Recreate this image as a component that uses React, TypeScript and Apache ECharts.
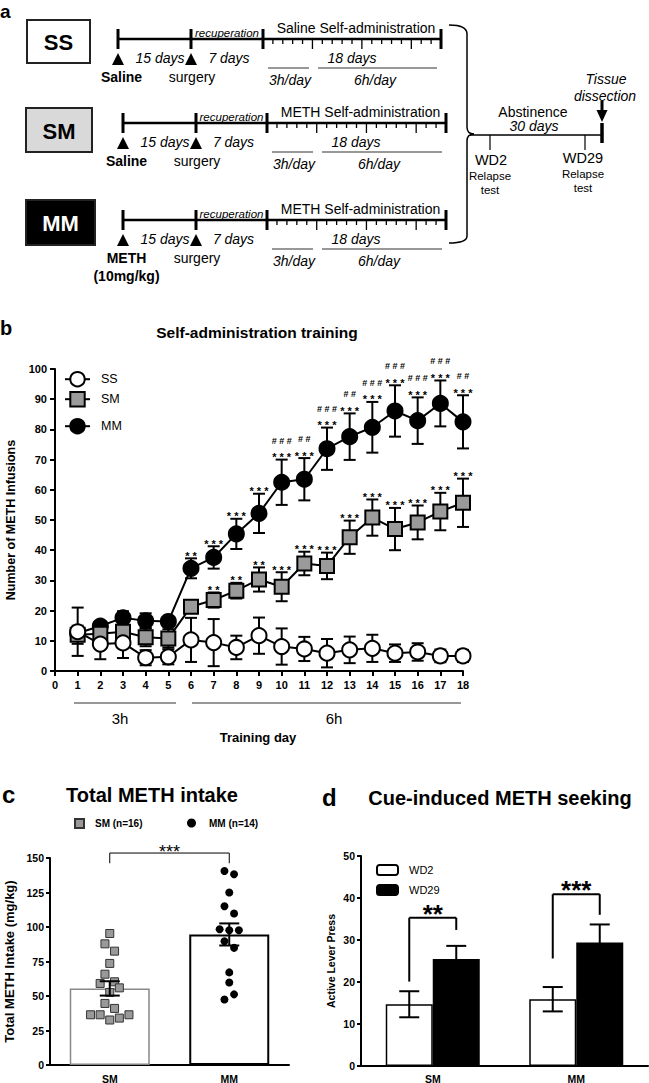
import React, { useEffect, useRef } from "react";
import * as echarts from "echarts";

const FONT = "'Liberation Sans', Arial, Helvetica, sans-serif";

// ---------- Panel a (protocol) ----------
const groups = ["SS", "SM", "MM"];
const groupFills = ["#ffffff", "#d9d9d9", "#000000"];
const groupTextColors = ["#000000", "#000000", "#ffffff"];
const pretreatLabels = [["Saline"], ["Saline"], ["METH", "(10mg/kg)"]];
const saTitles = ["Saline Self-administration", "METH Self-administration", "METH Self-administration"];
const phaseLabels = ["15 days", "7 days", "18 days"];
const sessionLabels = ["3h/day", "6h/day"];

// ---------- Panel b (training) ----------
const days = [1, 2, 3, 4, 5, 6, 7, 8, 9, 10, 11, 12, 13, 14, 15, 16, 17, 18];
const ssMean = [13.0, 8.9, 9.3, 4.4, 4.7, 10.3, 9.4, 7.8, 11.7, 8.1, 7.3, 5.9, 7.0, 7.5, 5.9, 6.3, 5.0, 5.0];
const ssErr = [8.0, 5.0, 5.0, 2.5, 2.5, 7.3, 7.8, 3.9, 6.0, 6.0, 4.0, 4.7, 4.4, 4.5, 2.9, 2.9, 2.1, 2.0];
const smMean = [12.0, 12.3, 13.0, 11.2, 10.8, 21.3, 23.5, 26.6, 30.3, 27.9, 35.6, 34.8, 44.3, 50.8, 47.0, 49.2, 52.8, 55.7];
const smErr = [3.0, 2.5, 3.0, 3.0, 3.0, 2.0, 2.5, 2.6, 4.0, 4.8, 3.9, 4.4, 5.5, 6.0, 7.0, 5.6, 6.2, 8.0];
const mmMean = [12.5, 14.9, 17.6, 16.6, 16.4, 34.0, 37.6, 45.4, 52.2, 62.5, 63.5, 73.6, 77.6, 80.7, 86.1, 82.9, 88.6, 82.5];
const mmErr = [2.0, 1.5, 2.2, 2.5, 1.0, 3.3, 3.7, 5.0, 6.5, 7.5, 7.0, 7.0, 7.7, 8.4, 8.5, 7.7, 7.6, 8.8];
const mmStars = ["", "", "", "", "", "**", "***", "***", "***", "***", "***", "***", "***", "***", "***", "***", "***", "***"];
const mmHashes = ["", "", "", "", "", "", "", "", "", "###", "##", "###", "##", "###", "###", "###", "###", "##"];
const smStars = ["", "", "", "", "", "", "**", "**", "**", "***", "***", "***", "***", "***", "***", "***", "***", "***"];
const trainingYTicks = { min: 0, max: 100, interval: 10 };

// ---------- Panel c (total intake) ----------
const intakeCats = ["SM", "MM"];
const intakeMean = [55.5, 94.6];
const intakeSem = [5.2, 8.0];
const smIntake = [95.3, 87.8, 82.5, 73.6, 65.8, 59.1, 60.3, 55.9, 52.6, 44.6, 41.0, 36.4, 36.4, 32.6, 34.0, 36.4];
const smSlot = [0, -1, 1, 0, -1, -2, 1, 2, 0, -1, 1, -4, -2, 0, 2, 4];
const mmIntake = [140.6, 138.2, 125.0, 115.0, 109.8, 98.4, 97.7, 97.7, 89.7, 84.9, 67.1, 59.8, 51.2, 47.5];
const mmSlot = [-1, 1, 0, -1, 1, -2, 0, 2, -1, 1, 0, 0, 1, -1];
const intakeBracket = [0, 1, 153.6, 146.2];
const intakeSig = "***";

// ---------- Panel d (cue-induced seeking) ----------
const seekCats = ["SM", "MM"];
const wd2 = [14.7, 15.9];
const wd2Err = [3.1, 2.9];
const wd29 = [25.5, 29.4];
const wd29Err = [3.1, 4.3];
const bracketLeftY = [20.1, 25.6];
const bracketTopY = [35.3, 40.9];
const bracketRightY = [32.4, 36.0];
const bracketLabels = ["**", "***"];

const D_BAR_W = 47;
const SLOT_PX = 4.8;

// ---------- helpers ----------
type TOpt = { size?: number; weight?: string; style?: string; fill?: string; align?: string; rot?: number };
const gText = (text: string, x: number, y: number, o: TOpt = {}) => ({
  type: "text",
  x,
  y,
  rotation: o.rot ?? 0,
  silent: true,
  style: {
    text,
    fill: o.fill ?? "#000",
    fontSize: o.size ?? 14,
    fontWeight: o.weight ?? "normal",
    fontStyle: o.style ?? "normal",
    fontFamily: FONT,
    textAlign: o.align ?? "center",
    align: o.align ?? "center",
    textVerticalAlign: "middle",
    verticalAlign: "middle",
  },
});
const gLine = (x1: number, y1: number, x2: number, y2: number, w = 1.5, c = "#000") => ({
  type: "line",
  silent: true,
  shape: { x1, y1, x2, y2 },
  style: { stroke: c, lineWidth: w },
});
const gBez = (x1: number, y1: number, cpx1: number, cpy1: number, cpx2: number, cpy2: number, x2: number, y2: number) => ({
  type: "bezierCurve",
  silent: true,
  shape: { x1, y1, cpx1, cpy1, cpx2, cpy2, x2, y2 },
  style: { stroke: "#000", lineWidth: 1.5, fill: "none" },
});
const gTri = (x: number, y: number, w: number, h: number, down = false) => ({
  type: "polygon",
  silent: true,
  shape: {
    points: down
      ? [[x - w / 2, y], [x + w / 2, y], [x, y + h]]
      : [[x, y], [x - w / 2, y + h], [x + w / 2, y + h]],
  },
  style: { fill: "#000" },
});

const rowLayout = [
  { box: [27, 20, 63, 43], y: 39, x: [118, 191, 263, 441] },
  { box: [26, 108, 66, 44], y: 123, x: [123, 196, 267, 446] },
  { box: [26, 200, 69, 45], y: 220, x: [123, 196, 267, 446] },
];

function buildPanelA(): any[] {
  const els: any[] = [];
  els.push(gText("a", 0, 11, { size: 19, weight: "bold", align: "left" }));
  rowLayout.forEach((r, i) => {
    const [bx, by, bw, bh] = r.box;
    const y = r.y;
    const [x0, x1, x2, x3] = r.x;
    els.push({
      type: "rect",
      silent: true,
      shape: { x: bx, y: by, width: bw, height: bh },
      style: { fill: groupFills[i], stroke: "#222", lineWidth: 2 },
    });
    els.push(gText(groups[i], bx + bw / 2, by + bh / 2 + 1, { size: 22, weight: "bold", fill: groupTextColors[i] }));
    els.push(gLine(x0, y, x3, y, 2.5));
    [x0, x1, x2, x3].forEach((xx) => els.push(gLine(xx, y - 10, xx, y + 10, 3)));
    for (let k = 1; k < 18; k++) {
      const xx = x2 + ((x3 - x2) * k) / 18;
      els.push(gLine(xx, y, xx, y + (k % 5 === 0 ? 10 : 5), 1.3));
    }
    els.push(gTri(x0, y + 14, 12, 12));
    els.push(gTri(x1, y + 14, 12, 12));
    els.push(gText(phaseLabels[0], x0 + 42, y + 19, { style: "italic" }));
    els.push(gText(phaseLabels[1], (x1 + x2) / 2 + 2, y + 19, { style: "italic" }));
    els.push(gText(phaseLabels[2], x2 + 89, y + 19, { style: "italic" }));
    els.push(gText("recuperation", (x1 + x2) / 2, y - 6, { style: "italic", size: 11.5 }));
    els.push(gText(saTitles[i], (x2 + x3) / 2 + 4, y - 11, { size: 14 }));
    els.push(gLine(x2 + 5, y + 29, x2 + 46, y + 29, 1.2, "#333"));
    els.push(gText(sessionLabels[0], x2 + 27, y + 41, { style: "italic" }));
    els.push(gLine(x2 + 55, y + 29, x3 - 4, y + 29, 1.2, "#333"));
    els.push(gText(sessionLabels[1], x2 + 112, y + 41, { style: "italic" }));
    pretreatLabels[i].forEach((t, j) => els.push(gText(t, x0 + 3.5, y + 38 + j * 18, { weight: "bold" })));
    els.push(gText("surgery", x1 + 1, y + 38));
  });
  // brace
  els.push(gBez(449, 25, 462, 25, 467, 28, 467, 34));
  els.push(gLine(467, 34, 467, 127));
  els.push(gBez(467, 127, 467, 132, 470, 134, 474, 134));
  els.push(gBez(474, 134, 470, 134, 467, 136, 467, 141));
  els.push(gLine(467, 141, 467, 236));
  els.push(gBez(467, 236, 467, 240, 462, 243, 449, 243));
  // abstinence
  els.push(gLine(470, 135, 602, 135, 1.5));
  els.push(gLine(490, 135, 490, 150, 1.2));
  els.push(gLine(585, 135, 585, 150, 1.2));
  els.push(gLine(602, 123, 602, 143, 3.5));
  els.push(gLine(602, 101, 602, 112, 3));
  els.push(gTri(602, 110, 11, 12, true));
  els.push(gText("Abstinence", 533, 112));
  els.push(gText("30 days", 534, 126, { style: "italic" }));
  els.push(gText("WD2", 491, 160, { size: 14.5 }));
  els.push(gText("Relapse", 490, 176, { size: 11.5 }));
  els.push(gText("test", 490, 190, { size: 11.5 }));
  els.push(gText("WD29", 583, 158, { size: 14.5 }));
  els.push(gText("Relapse", 583, 174, { size: 11.5 }));
  els.push(gText("test", 583, 188, { size: 11.5 }));
  els.push(gText("Tissue", 606, 79, { style: "italic" }));
  els.push(gText("dissection", 605, 96, { style: "italic" }));
  return els;
}

function buildOtherGraphics(): any[] {
  return [
    gText("b", 0, 328, { size: 20, weight: "bold", align: "left" }),
    gText("Self-administration training", 257, 332, { size: 15.5, weight: "bold" }),
    gLine(74, 703, 176, 703, 1.2, "#333"),
    gLine(192, 703, 461, 703, 1.2, "#333"),
    gText("3h", 120, 718, { size: 15 }),
    gText("6h", 334, 718, { size: 15 }),
    gText("Training day", 258, 737, { size: 13, weight: "bold" }),
    gText("c", 2, 794, { size: 24, weight: "bold", align: "left" }),
    gText("Total METH intake", 152, 795, { size: 20, weight: "bold" }),
    gText("d", 322, 797, { size: 24, weight: "bold", align: "left" }),
    gText("Cue-induced METH seeking", 500, 798, { size: 20, weight: "bold" }),
  ];
}

const errRender = (capHalf: number, width = 2) => (params: any, api: any) => {
  const x = api.value(0);
  const m = api.value(1);
  const e = api.value(2);
  const side = api.value(3) || 0;
  const t = api.coord([x, m + e]);
  const b = api.coord([x, m - e]);
  const dx = side * (D_BAR_W / 2);
  const cx = t[0] + dx;
  const st = { stroke: "#000", lineWidth: width };
  return {
    type: "group",
    children: [
      { type: "line", shape: { x1: cx, y1: t[1], x2: cx, y2: b[1] }, style: st },
      { type: "line", shape: { x1: cx - capHalf, y1: t[1], x2: cx + capHalf, y2: t[1] }, style: st },
      { type: "line", shape: { x1: cx - capHalf, y1: b[1], x2: cx + capHalf, y2: b[1] }, style: st },
    ],
  };
};

const spaced = (s: string) => s.split("").join(" ");

const annotRender = (stars: string[], hashes: string[] | null) => (params: any, api: any) => {
  const i = params.dataIndex;
  const p = api.coord([api.value(0), api.value(1)]);
  const children: any[] = [];
  const mk = (text: string, y: number, size: number) => ({
    type: "text",
    x: p[0],
    y,
    style: {
      text,
      fill: "#000",
      fontSize: size,
      fontWeight: "bold",
      fontFamily: FONT,
      textAlign: "center",
      align: "center",
      textVerticalAlign: "middle",
      verticalAlign: "middle",
    },
  });
  if (stars[i]) children.push(mk(spaced(stars[i]), p[1] - 2.5, 11));
  if (hashes && hashes[i]) children.push(mk(spaced(hashes[i]), p[1] - 19, 9));
  return { type: "group", children };
};

const dotRender = (square: boolean) => (params: any, api: any) => {
  const p = api.coord([api.value(0), api.value(1)]);
  const x = p[0] + api.value(2) * SLOT_PX;
  if (square) {
    return {
      type: "rect",
      shape: { x: x - 4, y: p[1] - 4, width: 8, height: 8 },
      style: { fill: "#999", stroke: "#333", lineWidth: 1 },
    };
  }
  return { type: "circle", shape: { cx: x, cy: p[1], r: 4 }, style: { fill: "#000" } };
};

const intakeBracketRender = (params: any, api: any) => {
  const l = api.coord([api.value(0), api.value(2)]);
  const r = api.coord([api.value(1), api.value(2)]);
  const dy = api.coord([api.value(0), api.value(3)])[1];
  const st = { stroke: "#000", lineWidth: 1 };
  return {
    type: "group",
    children: [
      { type: "line", shape: { x1: l[0], y1: dy, x2: l[0], y2: l[1] }, style: st },
      { type: "line", shape: { x1: l[0], y1: l[1], x2: r[0], y2: r[1] }, style: st },
      { type: "line", shape: { x1: r[0], y1: r[1], x2: r[0], y2: dy }, style: st },
      {
        type: "text",
        x: (l[0] + r[0]) / 2,
        y: l[1] - 1,
        style: {
          text: intakeSig,
          fill: "#000",
          fontSize: 18,
          fontWeight: "normal",
          fontFamily: FONT,
          textAlign: "center",
          align: "center",
          textVerticalAlign: "middle",
          verticalAlign: "middle",
        },
      },
    ],
  };
};

const seekBracketRender = (params: any, api: any) => {
  const cat = api.value(0);
  const top = api.coord([cat, api.value(2)]);
  const yL = api.coord([cat, api.value(1)])[1];
  const yR = api.coord([cat, api.value(3)])[1];
  const xL = top[0] - D_BAR_W / 2;
  const xR = top[0] + D_BAR_W / 2;
  const st = { stroke: "#000", lineWidth: 2 };
  return {
    type: "group",
    children: [
      { type: "line", shape: { x1: xL, y1: yL, x2: xL, y2: top[1] }, style: st },
      { type: "line", shape: { x1: xL, y1: top[1], x2: xR, y2: top[1] }, style: st },
      { type: "line", shape: { x1: xR, y1: top[1], x2: xR, y2: yR }, style: st },
      {
        type: "text",
        x: (xL + xR) / 2,
        y: top[1] - 4,
        style: {
          text: bracketLabels[params.dataIndex],
          fill: "#000",
          fontSize: 26,
          fontWeight: "bold",
          fontFamily: FONT,
          textAlign: "center",
          align: "center",
          textVerticalAlign: "middle",
          verticalAlign: "middle",
        },
      },
    ],
  };
};

const axisLine = { show: true, onZero: true, lineStyle: { color: "#000", width: 2 } };
const axisTick = (len: number) => ({ show: true, length: len, inside: false, lineStyle: { color: "#000", width: 2 } });
const lbl = (size: number, margin: number) => ({ color: "#000", fontWeight: "bold", fontSize: size, margin, fontFamily: FONT });

function buildOption(): any {
  const lineBase = { type: "line", xAxisIndex: 0, yAxisIndex: 0, lineStyle: { color: "#000", width: 2 }, z: 3 };
  return {
    animation: false,
    textStyle: { fontFamily: FONT, color: "#000" },
    grid: [
      { left: 55, top: 369, width: 408, height: 302, containLabel: false, outerBoundsMode: "none" },
      { left: 50, top: 858, width: 239, height: 207, containLabel: false, outerBoundsMode: "none" },
      { left: 361, top: 856, width: 287, height: 210, containLabel: false, outerBoundsMode: "none" },
    ],
    xAxis: [
      {
        gridIndex: 0, type: "value", min: 0, max: 18, interval: 1,
        axisLine, axisTick: axisTick(5), axisLabel: lbl(11, 8), splitLine: { show: false },
      },
      {
        gridIndex: 1, type: "category", data: intakeCats,
        axisLine, axisTick: { show: false }, axisLabel: lbl(10.5, 8), splitLine: { show: false },
      },
      {
        gridIndex: 2, type: "category", data: seekCats,
        axisLine, axisTick: { show: false }, axisLabel: lbl(10.5, 7), splitLine: { show: false },
      },
    ],
    yAxis: [
      {
        gridIndex: 0, type: "value", ...trainingYTicks,
        axisLine, axisTick: axisTick(5), axisLabel: lbl(11, 8), splitLine: { show: false },
        name: "Number of METH Infusions", nameLocation: "middle", nameGap: 29, nameRotate: 90,
        nameTextStyle: { fontWeight: "bold", fontSize: 12.5, color: "#000", fontFamily: FONT },
      },
      {
        gridIndex: 1, type: "value", min: 0, max: 150, interval: 25,
        axisLine, axisTick: axisTick(4), axisLabel: lbl(10.5, 6), splitLine: { show: false },
        name: "Total METH Intake (mg/kg)", nameLocation: "middle", nameGap: 34, nameRotate: 90,
        nameTextStyle: { fontWeight: "bold", fontSize: 13, color: "#000", fontFamily: FONT },
      },
      {
        gridIndex: 2, type: "value", min: 0, max: 50, interval: 10,
        axisLine, axisTick: axisTick(4), axisLabel: lbl(10.5, 6), splitLine: { show: false },
        name: "Active Lever Press", nameLocation: "middle", nameGap: 25, nameRotate: 90,
        nameTextStyle: { fontWeight: "bold", fontSize: 10.5, color: "#000", fontFamily: FONT },
      },
    ],
    legend: [
      ...[
        { name: "SS", top: 371 },
        { name: "SM", top: 391 },
        { name: "MM", top: 418 },
      ].map((l) => ({
        data: [l.name], left: 64, top: l.top, orient: "vertical", itemWidth: 25, itemHeight: 18,
        selectedMode: false, padding: 0,
        textStyle: { color: "#000", fontSize: 12.5, fontFamily: FONT, padding: [0, 0, 0, 6] },
      })),
      {
        data: [{ name: "SM (n=16)", icon: "rect" }], left: 74, top: 818, itemWidth: 9, itemHeight: 9,
        selectedMode: false, padding: 0,
        textStyle: { color: "#000", fontSize: 10, fontWeight: "bold", fontFamily: FONT, padding: [0, 0, 0, 6] },
      },
      {
        data: [{ name: "MM (n=14)", icon: "circle" }], left: 187, top: 818, itemWidth: 9, itemHeight: 9,
        selectedMode: false, padding: 0,
        textStyle: { color: "#000", fontSize: 10, fontWeight: "bold", fontFamily: FONT, padding: [0, 0, 0, 8] },
      },
      {
        data: ["WD2", "WD29"], left: 376, top: 864, orient: "vertical", itemWidth: 21, itemHeight: 10, itemGap: 8,
        selectedMode: false, padding: 0,
        textStyle: { color: "#000", fontSize: 11, fontFamily: FONT, padding: [0, 0, 0, 6] },
      },
    ],
    graphic: { elements: [...buildPanelA(), ...buildOtherGraphics()] },
    series: [
      // panel b error bars
      ...[
        [mmMean, mmErr],
        [smMean, smErr],
        [ssMean, ssErr],
      ].map(([m, e]) => ({
        type: "custom", xAxisIndex: 0, yAxisIndex: 0, clip: false, z: 2, silent: true,
        encode: { x: 0, y: 1 }, renderItem: errRender(6),
        data: days.map((d, i) => [d, m[i], e[i]]),
      })),
      {
        ...lineBase, name: "MM", symbol: "circle", symbolSize: 15,
        itemStyle: { color: "#000", borderColor: "#000", borderWidth: 2 },
        data: days.map((d, i) => [d, mmMean[i]]),
      },
      {
        ...lineBase, name: "SM", symbol: "rect", symbolSize: 14,
        itemStyle: { color: "#9a9a9a", borderColor: "#000", borderWidth: 2 },
        data: days.map((d, i) => [d, smMean[i]]),
      },
      {
        ...lineBase, name: "SS", symbol: "circle", symbolSize: 15, z: 4,
        itemStyle: { color: "#fff", borderColor: "#000", borderWidth: 2 },
        data: days.map((d, i) => [d, ssMean[i]]),
      },
      {
        type: "custom", xAxisIndex: 0, yAxisIndex: 0, clip: false, z: 5, silent: true,
        encode: { x: 0, y: 1 }, renderItem: annotRender(mmStars, mmHashes),
        data: days.map((d, i) => [d, mmMean[i] + mmErr[i]]),
      },
      {
        type: "custom", xAxisIndex: 0, yAxisIndex: 0, clip: false, z: 5, silent: true,
        encode: { x: 0, y: 1 }, renderItem: annotRender(smStars, null),
        data: days.map((d, i) => [d, smMean[i] + smErr[i]]),
      },
      // panel c
      {
        type: "bar", xAxisIndex: 1, yAxisIndex: 1, barWidth: 80, silent: true, z: 2,
        data: intakeMean.map((v, i) => ({
          value: v,
          itemStyle: { color: "#fff", borderColor: i === 0 ? "#888" : "#000", borderWidth: i === 0 ? 1.5 : 2 },
        })),
      },
      {
        type: "custom", name: "SM (n=16)", xAxisIndex: 1, yAxisIndex: 1, clip: false, z: 3, silent: true,
        itemStyle: { color: "#999", borderColor: "#333", borderWidth: 1 },
        encode: { x: 0, y: 1 }, renderItem: dotRender(true),
        data: smIntake.map((v, i) => [0, v, smSlot[i]]),
      },
      {
        type: "custom", name: "MM (n=14)", xAxisIndex: 1, yAxisIndex: 1, clip: false, z: 3, silent: true,
        itemStyle: { color: "#000" },
        encode: { x: 0, y: 1 }, renderItem: dotRender(false),
        data: mmIntake.map((v, i) => [1, v, mmSlot[i]]),
      },
      {
        type: "custom", xAxisIndex: 1, yAxisIndex: 1, clip: false, z: 4, silent: true,
        encode: { x: 0, y: 1 }, renderItem: errRender(10),
        data: intakeMean.map((v, i) => [i, v, intakeSem[i], 0]),
      },
      {
        type: "custom", xAxisIndex: 1, yAxisIndex: 1, clip: false, z: 4, silent: true,
        encode: { x: 0, y: 2 }, renderItem: intakeBracketRender,
        data: [intakeBracket],
      },
      // panel d
      {
        type: "bar", name: "WD2", xAxisIndex: 2, yAxisIndex: 2, barWidth: D_BAR_W, barGap: "0%", silent: true,
        itemStyle: { color: "#fff", borderColor: "#000", borderWidth: 1.5 },
        data: wd2,
      },
      {
        type: "bar", name: "WD29", xAxisIndex: 2, yAxisIndex: 2, barWidth: D_BAR_W, barGap: "0%", silent: true,
        itemStyle: { color: "#000", borderColor: "#000", borderWidth: 1.5 },
        data: wd29,
      },
      {
        type: "custom", xAxisIndex: 2, yAxisIndex: 2, clip: false, z: 4, silent: true,
        encode: { x: 0, y: 1 }, renderItem: errRender(10),
        data: [
          ...wd2.map((v, i) => [i, v, wd2Err[i], -1]),
          ...wd29.map((v, i) => [i, v, wd29Err[i], 1]),
        ],
      },
      {
        type: "custom", xAxisIndex: 2, yAxisIndex: 2, clip: false, z: 4, silent: true,
        encode: { x: 0, y: 2 }, renderItem: seekBracketRender,
        data: seekCats.map((_, i) => [i, bracketLeftY[i], bracketTopY[i], bracketRightY[i]]),
      },
    ],
  };
}

export default function App() {
  const ref = useRef<HTMLDivElement>(null);
  useEffect(() => {
    if (!ref.current) return;
    const chart = echarts.init(ref.current, null, { renderer: "svg" });
    chart.setOption(buildOption());
    return () => chart.dispose();
  }, []);
  return (
    <div
      ref={ref}
      style={{ position: "fixed", left: 0, top: 0, width: 649, height: 1083, background: "#fff" }}
    />
  );
}
